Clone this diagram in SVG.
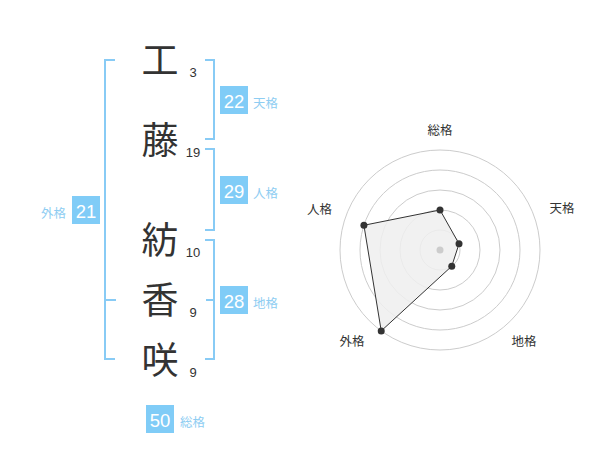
<svg xmlns="http://www.w3.org/2000/svg" width="600" height="470" viewBox="0 0 600 470">
<style>
.ch{font-family:"Noto Sans CJK JP",sans-serif;font-size:37px;fill:#333;text-anchor:middle}
.num{font-family:"Liberation Sans",Arial,sans-serif;font-size:13px;fill:#333;text-anchor:middle}
.badge{fill:#80ccf7}
.bt{font-family:"Liberation Sans",Arial,sans-serif;font-size:18.5px;fill:#fff;text-anchor:middle}
.lab{font-family:"Noto Sans CJK JP",sans-serif;font-size:12.5px;fill:#8ecdf2}
.br{fill:none;stroke:#88cbf5;stroke-width:2}
.ring{fill:none;stroke:#cccccc;stroke-width:1}
.rl{font-family:"Noto Sans CJK JP",sans-serif;font-size:12.5px;fill:#333;text-anchor:middle}
.pt{fill:#333}
</style>
<g id="connectors">
<path class="br" d="M115,60 H105 V359 H115 M105,300 H116"/>
<path class="br" d="M205,60 H214 V139 H205"/>
<path class="br" d="M205,149 H214 V230 H205"/>
<path class="br" d="M205,240 H214 V359 H205 M214,300 H206"/>
</g>
<g id="char-ku"><text class="ch" x="160" y="74">工</text><text class="num" x="193" y="77">3</text></g>
<g id="char-fuji"><text class="ch" x="160" y="154">藤</text><text class="num" x="193" y="157">19</text></g>
<g id="char-tsumugi"><text class="ch" x="160" y="254">紡</text><text class="num" x="193" y="257">10</text></g>
<g id="char-ka"><text class="ch" x="160" y="314">香</text><text class="num" x="193" y="317">9</text></g>
<g id="char-saki"><text class="ch" x="160" y="374">咲</text><text class="num" x="193" y="377">9</text></g>
<g id="tenkaku"><rect class="badge" x="220" y="86" width="28" height="28"/><text class="bt" x="234" y="108">22</text><text class="lab" x="253" y="108">天格</text></g>
<g id="jinkaku"><rect class="badge" x="220" y="176" width="28" height="28"/><text class="bt" x="234" y="198">29</text><text class="lab" x="253" y="198">人格</text></g>
<g id="chikaku"><rect class="badge" x="220" y="286" width="28" height="28"/><text class="bt" x="234" y="308">28</text><text class="lab" x="253" y="308">地格</text></g>
<g id="gaikaku"><rect class="badge" x="72" y="196" width="28" height="28"/><text class="bt" x="86" y="218">21</text><text class="lab" x="66" y="218" text-anchor="end">外格</text></g>
<g id="soukaku"><rect class="badge" x="146" y="405" width="28" height="28"/><text class="bt" x="160" y="427">50</text><text class="lab" x="180" y="427">総格</text></g>
<g id="radar">
<circle class="ring" cx="440" cy="250" r="20"/>
<circle class="ring" cx="440" cy="250" r="40"/>
<circle class="ring" cx="440" cy="250" r="60"/>
<circle class="ring" cx="440" cy="250" r="80"/>
<circle class="ring" cx="440" cy="250" r="100"/>
<polygon points="440,210 459.02,243.82 451.76,266.18 381.22,330.9 363.92,225.28" fill="#efefef" fill-opacity="0.85" stroke="#333" stroke-width="1"/>
<circle cx="440" cy="250" r="3.5" fill="#cccccc"/>
<circle class="pt" cx="440" cy="210" r="3.5"/>
<circle class="pt" cx="459.02" cy="243.82" r="3.5"/>
<circle class="pt" cx="451.76" cy="266.18" r="3.5"/>
<circle class="pt" cx="381.22" cy="330.9" r="3.5"/>
<circle class="pt" cx="363.92" cy="225.28" r="3.5"/>
<text class="rl" x="440" y="134.5">総格</text>
<text class="rl" x="562" y="212.5">天格</text>
<text class="rl" x="319.5" y="213.5">人格</text>
<text class="rl" x="352" y="346">外格</text>
<text class="rl" x="524" y="346">地格</text>
</g>
</svg>
